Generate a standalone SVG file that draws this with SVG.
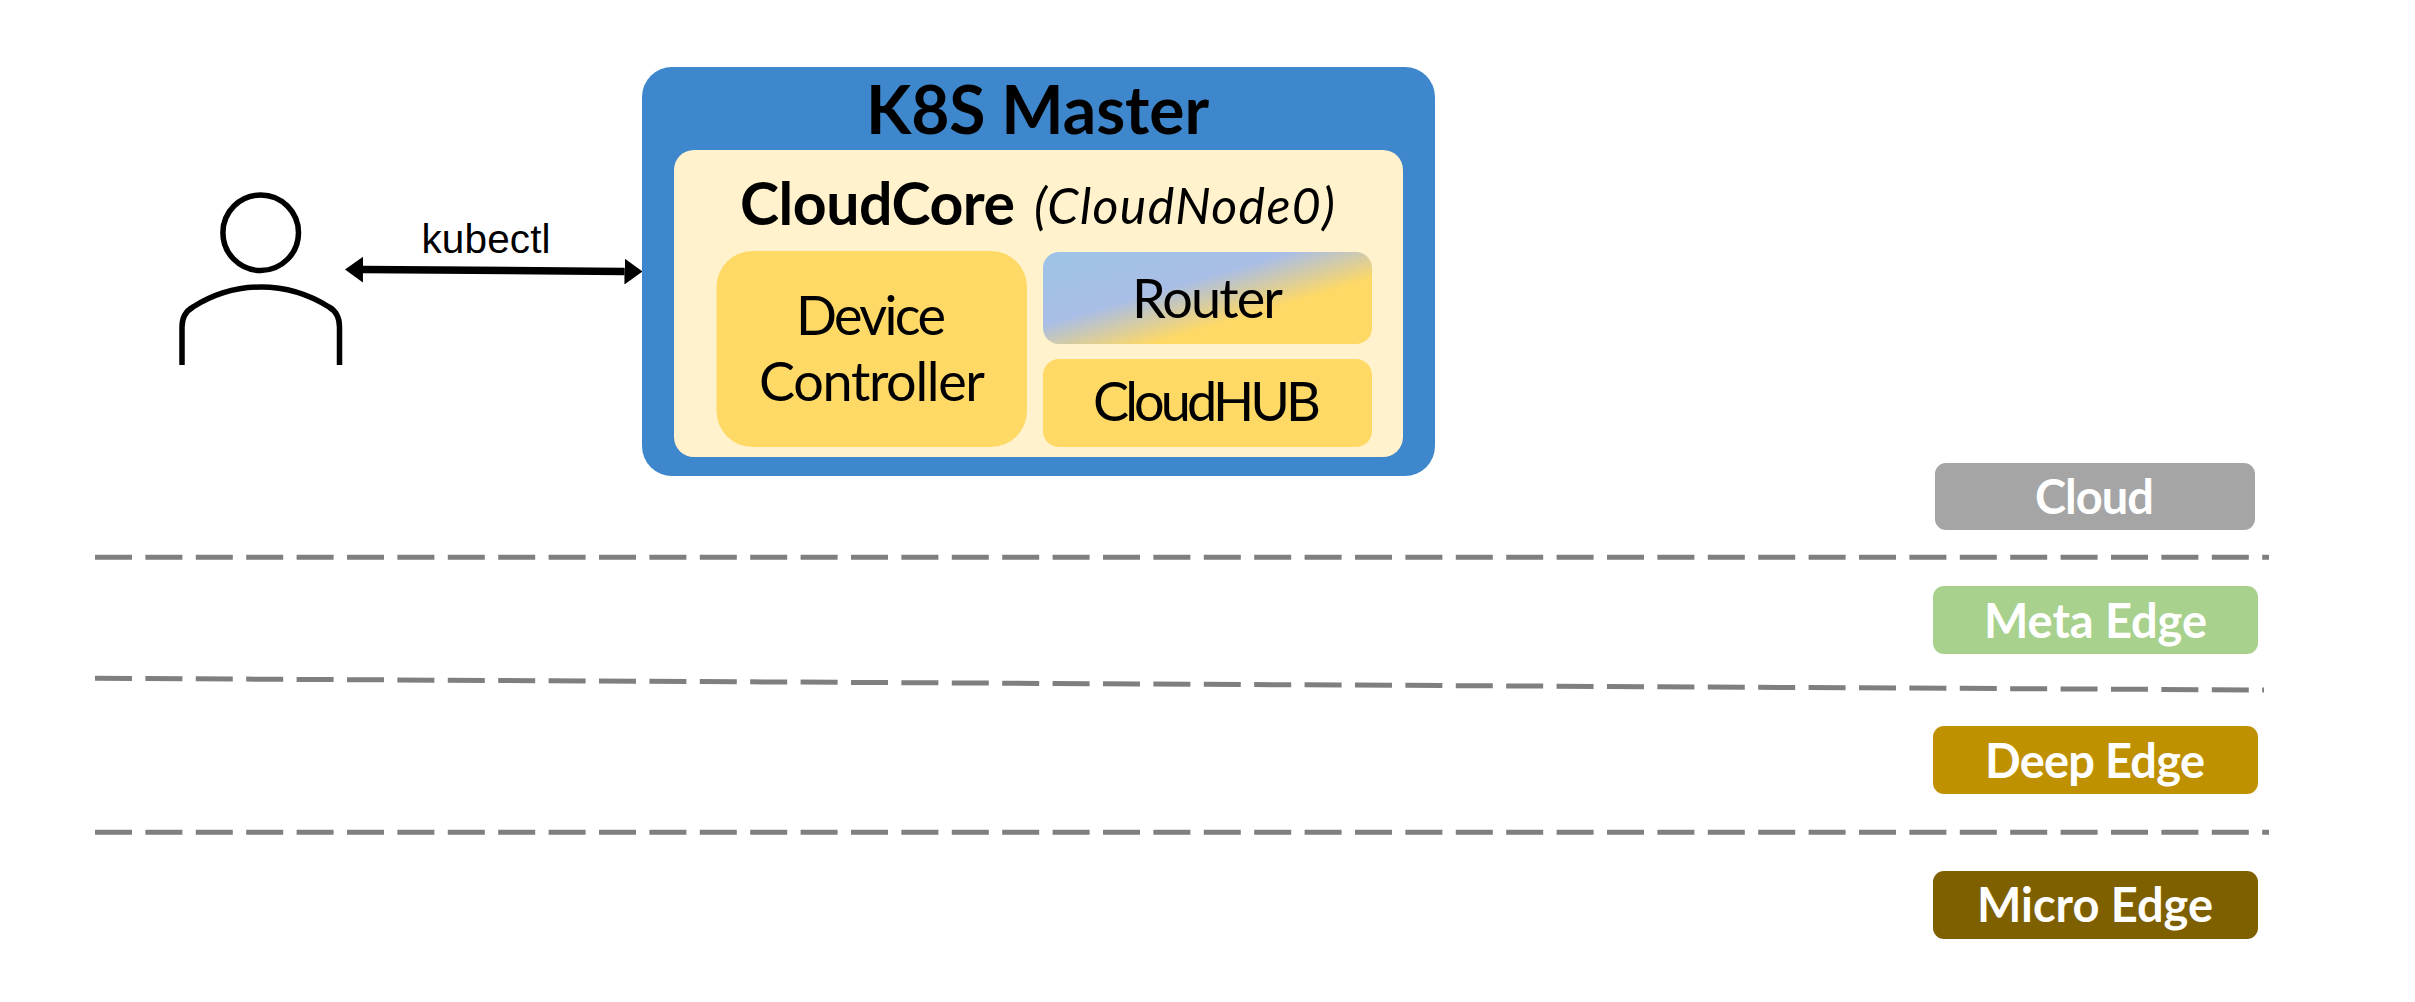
<svg xmlns="http://www.w3.org/2000/svg" width="2415" height="1002" viewBox="0 0 2415 1002">
<style>
.sans{font-family:"Lato","Liberation Sans",sans-serif}
.dash{fill:none;stroke:#7f7f7f;stroke-width:5;stroke-dasharray:37 13.4}
.y{fill:#ffd966}
.t{font-size:54px;fill:#000}
.tag{font-size:47px;font-weight:700;fill:#fff}
.user{fill:none;stroke:#000;stroke-width:5.5}
</style>
<defs>
<linearGradient id="routerFill" gradientUnits="userSpaceOnUse" x1="1043" y1="252" x2="1076.7" y2="366.2">
<stop offset="0" stop-color="#9dc3e6"/><stop offset="0.59" stop-color="#a9bee6"/><stop offset="1" stop-color="#ffd966"/>
</linearGradient>
<marker id="head" markerUnits="userSpaceOnUse" markerWidth="18" markerHeight="26" refX="0" refY="13" orient="auto-start-reverse">
<path d="M0 0L18 13L0 26Z" fill="#000"/>
</marker>
</defs>
<rect width="2415" height="1002" fill="#fff"/>
<g id="connectors">
<line class="dash" x1="95" y1="557.3" x2="2269" y2="557.3"/>
<line class="dash" x1="95" y1="678.3" x2="2264" y2="690"/>
<line class="dash" x1="95" y1="832.3" x2="2269" y2="832.3"/>
<line x1="363" y1="269.6" x2="624.5" y2="271.4" stroke="#000" stroke-width="7.5" marker-start="url(#head)" marker-end="url(#head)"/>
<text x="421.500" y="252.7" font-family="'Liberation Sans',Arial,sans-serif" font-size="40.500" textLength="129" fill="#000">kubectl</text>
</g>
<g id="user">
<circle class="user" cx="260.7" cy="232.7" r="37.8"/>
<path class="user" d="M182 365V327C182 317 186 311 193 307C212 295 236 287 261 287C286 287 310 295 329 307C336 311 339.500 317 339.500 327V365"/>
</g>
<g id="k8s-master">
<rect x="642" y="67" width="793" height="409" rx="30" fill="#3e87cc"/>
<text class="sans" x="866" y="134" font-size="66" font-weight="700" textLength="343" fill="#000">K8S Master</text>
</g>
<g id="cloudcore">
<rect x="674" y="150" width="729" height="307" rx="20" fill="#fff2cc"/>
<text class="sans" x="740" y="225" font-size="59" font-weight="700" textLength="275" fill="#000">CloudCore</text>
<text class="sans" x="1034" y="224" font-size="50" font-style="italic" textLength="301" fill="#000">(CloudNode0)</text>
</g>
<g id="device-controller">
<rect class="y" x="716.500" y="251" width="310.500" height="196" rx="36"/>
<text class="sans t" x="796" y="335" textLength="150">Device</text>
<text class="sans t" x="759" y="401" textLength="226">Controller</text>
</g>
<g id="router">
<rect x="1043" y="252" width="329" height="92" rx="16" fill="url(#routerFill)"/>
<text class="sans t" x="1132" y="317.500" textLength="151">Router</text>
</g>
<g id="cloudhub">
<rect class="y" x="1043" y="359" width="329" height="88" rx="16"/>
<text class="sans t" x="1093" y="421" textLength="228">CloudHUB</text>
</g>
<g id="tag-cloud">
<rect x="1935" y="463" width="320" height="67" rx="11" fill="#a5a5a5"/>
<text class="sans tag" x="2035" y="514" textLength="119">Cloud</text>
</g>
<g id="tag-meta-edge">
<rect x="1933" y="586" width="325" height="68" rx="11" fill="#a9d18e"/>
<text class="sans tag" x="1984" y="638" textLength="223">Meta Edge</text>
</g>
<g id="tag-deep-edge">
<rect x="1933" y="726" width="325" height="68" rx="11" fill="#bf9000"/>
<text class="sans tag" x="1985" y="778" textLength="220">Deep Edge</text>
</g>
<g id="tag-micro-edge">
<rect x="1933" y="871" width="325" height="68" rx="11" fill="#7f6000"/>
<text class="sans tag" x="1977" y="922" textLength="236">Micro Edge</text>
</g>
</svg>
